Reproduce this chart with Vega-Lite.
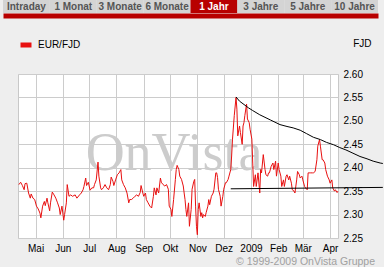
{
  "$schema": "https://vega.github.io/schema/vega-lite/v6.json",
  "background": "#eeeeee",
  "padding": {"left": 3, "top": 0, "right": 0, "bottom": 0},
  "bounds": "flush",
  "spacing": 61,
  "config": {"font": "Liberation Sans", "axis": {"labelOverlap": false}},
  "resolve": {"scale": {"color": "independent"}},
  "vconcat": [
    {
      "width": 320,
      "height": 13,
      "view": {"stroke": null},
      "data": {"values": [
        {"tab": "Intraday", "sel": false},
        {"tab": "1 Monat", "sel": false},
        {"tab": "3 Monate", "sel": false},
        {"tab": "6 Monate", "sel": false},
        {"tab": "1 Jahr", "sel": true},
        {"tab": "3 Jahre", "sel": false},
        {"tab": "5 Jahre", "sel": false},
        {"tab": "10 Jahre", "sel": false}
      ]},
      "encoding": {
        "x": {"field": "tab", "type": "nominal", "sort": null,
          "scale": {"range": [-15, 360], "paddingInner": 0, "paddingOuter": 0},
          "axis": {"title": null, "labels": false, "ticks": false, "grid": false,
            "domainColor": "#b80000", "domainWidth": 5, "offset": 2.5}}
      },
      "layer": [
        {"mark": {"type": "bar"},
         "encoding": {"color": {"condition": {"test": "datum.sel", "value": "#b80000"}, "value": "#d4d4d4"}}},
        {"mark": {"type": "text", "fontWeight": "bold", "fontSize": 10, "baseline": "middle"},
         "encoding": {"text": {"field": "tab"},
           "color": {"condition": {"test": "datum.sel", "value": "#ffffff"}, "value": "#555555"}}}
      ]
    },
    {
      "width": 320,
      "height": 164,
      "view": {"fill": "#ffffff", "stroke": "#c8c8c8"},
      "title": {"text": "© 1999-2009 OnVista Gruppe", "orient": "bottom", "anchor": "end", "frame": "group", "fontSize": 10.5, "fontWeight": "normal", "color": "#a0a0a0", "dx": 37, "offset": 4},
      "layer": [
        {
          "data": {"values": [{"wm": "OnVista"}]},
          "mark": {"type": "text", "font": "Liberation Serif", "fontSize": 54, "color": "#cccccc", "baseline": "middle", "dx": -4, "dy": -2},
          "encoding": {"text": {"field": "wm"}}
        },
        {
          "data": {"values": [
            {"date":"2008-04-12","value":2.364},{"date":"2008-04-14","value":2.369},{"date":"2008-04-16","value":2.362},{"date":"2008-04-18","value":2.353},{"date":"2008-04-19","value":2.366},{"date":"2008-04-21","value":2.367},{"date":"2008-04-23","value":2.346},{"date":"2008-04-25","value":2.335},{"date":"2008-04-26","value":2.344},{"date":"2008-04-28","value":2.335},{"date":"2008-04-30","value":2.332},
            {"date":"2008-05-02","value":2.318},{"date":"2008-05-04","value":2.312},{"date":"2008-05-06","value":2.303},{"date":"2008-05-07","value":2.293},{"date":"2008-05-09","value":2.318},{"date":"2008-05-11","value":2.328},{"date":"2008-05-12","value":2.319},{"date":"2008-05-14","value":2.335},{"date":"2008-05-15","value":2.325},{"date":"2008-05-17","value":2.308},{"date":"2008-05-18","value":2.325},{"date":"2008-05-20","value":2.348},{"date":"2008-05-22","value":2.342},{"date":"2008-05-24","value":2.335},{"date":"2008-05-26","value":2.325},{"date":"2008-05-28","value":2.314},{"date":"2008-05-29","value":2.300},{"date":"2008-05-31","value":2.318},
            {"date":"2008-06-02","value":2.288},{"date":"2008-06-03","value":2.300},{"date":"2008-06-05","value":2.325},{"date":"2008-06-06","value":2.364},{"date":"2008-06-08","value":2.339},{"date":"2008-06-10","value":2.342},{"date":"2008-06-12","value":2.339},{"date":"2008-06-15","value":2.342},{"date":"2008-06-17","value":2.335},{"date":"2008-06-20","value":2.342},{"date":"2008-06-22","value":2.346},{"date":"2008-06-24","value":2.353},{"date":"2008-06-25","value":2.360},{"date":"2008-06-27","value":2.378},{"date":"2008-06-28","value":2.362},{"date":"2008-06-30","value":2.369},
            {"date":"2008-07-02","value":2.352},{"date":"2008-07-04","value":2.357},{"date":"2008-07-06","value":2.357},{"date":"2008-07-07","value":2.364},{"date":"2008-07-09","value":2.374},{"date":"2008-07-11","value":2.412},{"date":"2008-07-12","value":2.382},{"date":"2008-07-14","value":2.357},{"date":"2008-07-15","value":2.353},{"date":"2008-07-17","value":2.357},{"date":"2008-07-19","value":2.364},{"date":"2008-07-21","value":2.357},{"date":"2008-07-23","value":2.353},{"date":"2008-07-25","value":2.364},{"date":"2008-07-26","value":2.380},{"date":"2008-07-28","value":2.371},{"date":"2008-07-29","value":2.362},{"date":"2008-07-31","value":2.374},
            {"date":"2008-08-02","value":2.385},{"date":"2008-08-04","value":2.389},{"date":"2008-08-06","value":2.396},{"date":"2008-08-07","value":2.374},{"date":"2008-08-09","value":2.364},{"date":"2008-08-11","value":2.357},{"date":"2008-08-13","value":2.346},{"date":"2008-08-15","value":2.325},{"date":"2008-08-16","value":2.332},{"date":"2008-08-18","value":2.332},{"date":"2008-08-20","value":2.335},{"date":"2008-08-22","value":2.339},{"date":"2008-08-24","value":2.342},{"date":"2008-08-26","value":2.339},{"date":"2008-08-28","value":2.347},{"date":"2008-08-29","value":2.362},{"date":"2008-08-31","value":2.346},
            {"date":"2008-09-01","value":2.339},{"date":"2008-09-03","value":2.346},{"date":"2008-09-04","value":2.332},{"date":"2008-09-06","value":2.325},{"date":"2008-09-08","value":2.318},{"date":"2008-09-10","value":2.314},{"date":"2008-09-12","value":2.339},{"date":"2008-09-13","value":2.357},{"date":"2008-09-15","value":2.342},{"date":"2008-09-16","value":2.357},{"date":"2008-09-18","value":2.346},{"date":"2008-09-20","value":2.378},{"date":"2008-09-21","value":2.369},{"date":"2008-09-23","value":2.364},{"date":"2008-09-25","value":2.361},{"date":"2008-09-27","value":2.364},{"date":"2008-09-29","value":2.354},{"date":"2008-09-30","value":2.318},
            {"date":"2008-10-02","value":2.311},{"date":"2008-10-03","value":2.296},{"date":"2008-10-05","value":2.332},{"date":"2008-10-07","value":2.375},{"date":"2008-10-08","value":2.396},{"date":"2008-10-09","value":2.405},{"date":"2008-10-11","value":2.396},{"date":"2008-10-12","value":2.382},{"date":"2008-10-14","value":2.375},{"date":"2008-10-16","value":2.361},{"date":"2008-10-17","value":2.346},{"date":"2008-10-18","value":2.332},{"date":"2008-10-19","value":2.311},{"date":"2008-10-20","value":2.296},{"date":"2008-10-22","value":2.325},{"date":"2008-10-23","value":2.275},{"date":"2008-10-25","value":2.311},{"date":"2008-10-26","value":2.354},{"date":"2008-10-28","value":2.371},{"date":"2008-10-29","value":2.375},{"date":"2008-10-30","value":2.318},{"date":"2008-10-31","value":2.275},
            {"date":"2008-11-01","value":2.257},{"date":"2008-11-02","value":2.311},{"date":"2008-11-03","value":2.325},{"date":"2008-11-05","value":2.296},{"date":"2008-11-06","value":2.304},{"date":"2008-11-07","value":2.293},{"date":"2008-11-08","value":2.300},{"date":"2008-11-10","value":2.296},{"date":"2008-11-11","value":2.304},{"date":"2008-11-13","value":2.318},{"date":"2008-11-14","value":2.332},{"date":"2008-11-15","value":2.321},{"date":"2008-11-17","value":2.339},{"date":"2008-11-19","value":2.346},{"date":"2008-11-20","value":2.354},{"date":"2008-11-22","value":2.389},{"date":"2008-11-23","value":2.389},{"date":"2008-11-24","value":2.379},{"date":"2008-11-25","value":2.354},{"date":"2008-11-27","value":2.339},{"date":"2008-11-28","value":2.318},{"date":"2008-11-30","value":2.339},
            {"date":"2008-12-01","value":2.354},{"date":"2008-12-03","value":2.368},{"date":"2008-12-04","value":2.368},{"date":"2008-12-06","value":2.375},{"date":"2008-12-07","value":2.382},{"date":"2008-12-09","value":2.396},{"date":"2008-12-10","value":2.425},{"date":"2008-12-11","value":2.461},{"date":"2008-12-13","value":2.511},{"date":"2008-12-15","value":2.550},{"date":"2008-12-16","value":2.525},{"date":"2008-12-17","value":2.468},{"date":"2008-12-19","value":2.489},{"date":"2008-12-20","value":2.475},{"date":"2008-12-22","value":2.450},{"date":"2008-12-23","value":2.489},{"date":"2008-12-24","value":2.496},{"date":"2008-12-25","value":2.511},{"date":"2008-12-27","value":2.536},{"date":"2008-12-28","value":2.504},{"date":"2008-12-30","value":2.496},{"date":"2008-12-31","value":2.482},
            {"date":"2009-01-02","value":2.461},{"date":"2009-01-03","value":2.410},{"date":"2009-01-04","value":2.360},{"date":"2009-01-06","value":2.385},{"date":"2009-01-07","value":2.360},{"date":"2009-01-09","value":2.389},{"date":"2009-01-11","value":2.346},{"date":"2009-01-12","value":2.396},{"date":"2009-01-13","value":2.389},{"date":"2009-01-15","value":2.428},{"date":"2009-01-17","value":2.396},{"date":"2009-01-18","value":2.385},{"date":"2009-01-20","value":2.382},{"date":"2009-01-21","value":2.389},{"date":"2009-01-22","value":2.389},{"date":"2009-01-24","value":2.403},{"date":"2009-01-26","value":2.410},{"date":"2009-01-27","value":2.396},{"date":"2009-01-29","value":2.414},{"date":"2009-01-30","value":2.382},
            {"date":"2009-02-01","value":2.410},{"date":"2009-02-02","value":2.396},{"date":"2009-02-04","value":2.382},{"date":"2009-02-05","value":2.360},{"date":"2009-02-07","value":2.374},{"date":"2009-02-08","value":2.360},{"date":"2009-02-10","value":2.382},{"date":"2009-02-11","value":2.385},{"date":"2009-02-13","value":2.374},{"date":"2009-02-14","value":2.382},{"date":"2009-02-16","value":2.367},{"date":"2009-02-17","value":2.353},{"date":"2009-02-19","value":2.350},{"date":"2009-02-20","value":2.346},{"date":"2009-02-22","value":2.374},{"date":"2009-02-23","value":2.392},{"date":"2009-02-25","value":2.385},{"date":"2009-02-26","value":2.378},{"date":"2009-02-28","value":2.382},
            {"date":"2009-03-01","value":2.374},{"date":"2009-03-03","value":2.360},{"date":"2009-03-04","value":2.357},{"date":"2009-03-06","value":2.353},{"date":"2009-03-07","value":2.389},{"date":"2009-03-09","value":2.389},{"date":"2009-03-10","value":2.389},{"date":"2009-03-12","value":2.389},{"date":"2009-03-13","value":2.389},{"date":"2009-03-15","value":2.392},{"date":"2009-03-17","value":2.417},{"date":"2009-03-18","value":2.446},{"date":"2009-03-20","value":2.460},{"date":"2009-03-21","value":2.446},{"date":"2009-03-23","value":2.417},{"date":"2009-03-24","value":2.417},{"date":"2009-03-26","value":2.410},{"date":"2009-03-27","value":2.396},{"date":"2009-03-29","value":2.382},{"date":"2009-03-31","value":2.374},
            {"date":"2009-04-01","value":2.367},{"date":"2009-04-03","value":2.374},{"date":"2009-04-04","value":2.357},{"date":"2009-04-06","value":2.350},{"date":"2009-04-07","value":2.353},{"date":"2009-04-09","value":2.347},{"date":"2009-04-10","value":2.350}
          ]},
          "mark": {"type": "line", "strokeWidth": 1, "interpolate": "linear"},
          "encoding": {
            "x": {"field": "date", "type": "temporal",
              "scale": {"type": "utc", "domain": [{"year": 2008, "month": 4, "date": 11, "utc": true}, {"year": 2009, "month": 4, "date": 10, "utc": true}]},
              "axis": {"title": null, "grid": true, "gridColor": "#cccccc", "gridWidth": 1, "ticks": false, "tickSize": 0, "domain": false, "tickCount": 40,
                "labelFontSize": 10, "labelColor": "#000000", "labelPadding": 5, "labelOverlap": false,
                "values": [
                  {"year": 2008, "month": 5, "date": 1, "utc": true},
                  {"year": 2008, "month": 6, "date": 1, "utc": true},
                  {"year": 2008, "month": 7, "date": 1, "utc": true},
                  {"year": 2008, "month": 8, "date": 1, "utc": true},
                  {"year": 2008, "month": 9, "date": 1, "utc": true},
                  {"year": 2008, "month": 10, "date": 1, "utc": true},
                  {"year": 2008, "month": 11, "date": 1, "utc": true},
                  {"year": 2008, "month": 12, "date": 1, "utc": true},
                  {"year": 2009, "month": 1, "date": 1, "utc": true},
                  {"year": 2009, "month": 2, "date": 1, "utc": true},
                  {"year": 2009, "month": 3, "date": 1, "utc": true},
                  {"year": 2009, "month": 4, "date": 1, "utc": true}
                ],
                "labelExpr": "utcmonth(datum.value) == 0 ? '' + utcyear(datum.value) : ['Jan','Feb','Mär','Apr','Mai','Jun','Jul','Aug','Sep','Okt','Nov','Dez'][utcmonth(datum.value)]"}},
            "y": {"field": "value", "type": "quantitative",
              "scale": {"domain": [2.25, 2.6], "nice": false, "zero": false},
              "axis": {"orient": "right", "title": "FJD", "titleAngle": 0, "titleAlign": "right", "titleBaseline": "middle", "titleX": 33, "titleY": -31, "titleFontWeight": "normal", "titleFontSize": 10, "titleColor": "#000000",
                "grid": true, "gridColor": "#cccccc", "gridWidth": 1, "ticks": false, "tickSize": 0, "domain": false, "labelOverlap": false, "tickCount": 40,
                "values": [2.25, 2.3, 2.35, 2.4, 2.45, 2.5, 2.55, 2.6], "format": ".2f",
                "labelFontSize": 10, "labelColor": "#000000", "labelPadding": 5}},
            "color": {"datum": "EUR/FJD", "type": "nominal",
              "scale": {"range": ["#e81010"]},
              "legend": {"orient": "none", "legendX": 0, "legendY": -37, "title": null, "symbolType": "stroke", "symbolSize": 121, "symbolStrokeWidth": 5, "labelFontSize": 10, "labelColor": "#000000", "labelOffset": 4}}
          }
        },
        {
          "data": {"values": [
            {"seg": "trend", "date": "2008-12-15", "value": 2.551},
            {"seg": "trend", "date": "2008-12-19", "value": 2.542},
            {"seg": "trend", "date": "2008-12-29", "value": 2.528},
            {"seg": "trend", "date": "2009-01-03", "value": 2.522},
            {"seg": "trend", "date": "2009-01-11", "value": 2.513},
            {"seg": "trend", "date": "2009-01-23", "value": 2.502},
            {"seg": "trend", "date": "2009-02-03", "value": 2.492},
            {"seg": "trend", "date": "2009-02-11", "value": 2.488},
            {"seg": "trend", "date": "2009-02-18", "value": 2.485},
            {"seg": "trend", "date": "2009-02-26", "value": 2.480},
            {"seg": "trend", "date": "2009-03-05", "value": 2.473},
            {"seg": "trend", "date": "2009-03-13", "value": 2.465},
            {"seg": "trend", "date": "2009-03-21", "value": 2.460},
            {"seg": "trend", "date": "2009-03-28", "value": 2.454},
            {"seg": "trend", "date": "2009-04-05", "value": 2.449},
            {"seg": "trend", "date": "2009-04-12", "value": 2.443},
            {"seg": "trend", "date": "2009-04-19", "value": 2.438},
            {"seg": "trend", "date": "2009-04-27", "value": 2.431},
            {"seg": "trend", "date": "2009-05-05", "value": 2.424},
            {"seg": "trend", "date": "2009-05-13", "value": 2.419},
            {"seg": "trend", "date": "2009-05-20", "value": 2.414},
            {"seg": "trend", "date": "2009-05-28", "value": 2.410},
            {"seg": "trend", "date": "2009-05-31", "value": 2.409},
            {"seg": "support", "date": "2008-12-09", "value": 2.355},
            {"seg": "support", "date": "2009-05-31", "value": 2.358}
          ]},
          "mark": {"type": "line", "color": "#000000", "strokeWidth": 1, "clip": false},
          "encoding": {
            "x": {"field": "date", "type": "temporal", "axis": {"labelOverlap": false, "tickCount": 40}},
            "y": {"field": "value", "type": "quantitative", "axis": {"labelOverlap": false, "tickCount": 40}},
            "detail": {"field": "seg"}
          }
        }
      ]
    }
  ]
}
